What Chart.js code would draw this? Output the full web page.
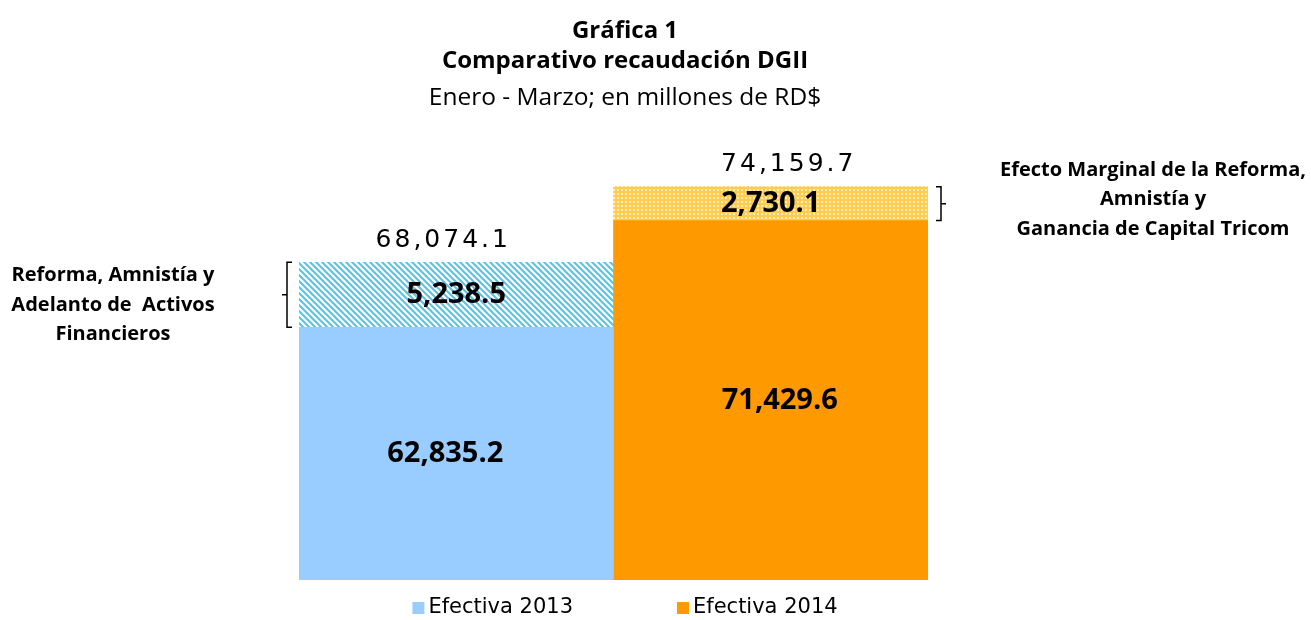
<!DOCTYPE html>
<html>
<head>
<meta charset="utf-8">
<script src="https://cdn.jsdelivr.net/npm/chart.js@4.4.0/dist/chart.umd.min.js"></script>
<style>
    body { margin: 0; background: #fff; }
    #wrap { width: 1311px; height: 620px; }
</style>
</head>
<body>
<div id="wrap"><canvas id="chart"></canvas></div>
<script>
const years = ['2013', '2014'];
const efectiva = [62835.2, 71429.6];
const efectoReforma = [5238.5, 2730.1];
const totales = [68074.1, 74159.7];
const serieNombres = ['Efectiva 2013', 'Efectiva 2014'];
const notaIzq = ['Reforma, Amnistía y', 'Adelanto de  Activos', 'Financieros'];
const notaDer = ['Efecto Marginal de la Reforma,', 'Amnistía y', 'Ganancia de Capital Tricom'];

const azul = '#99ccff';
const naranja = '#ff9900';
const fuente = '"Open Sans"';

function rayasAzules() {
    const c = document.createElement('canvas');
    c.width = 6; c.height = 6;
    const g = c.getContext('2d');
    g.fillStyle = '#ffffff';
    g.fillRect(0, 0, 6, 6);
    g.strokeStyle = '#4fc3f2';
    g.lineWidth = 2;
    g.beginPath();
    g.moveTo(0, 0); g.lineTo(6, 6);
    g.moveTo(-3, 3); g.lineTo(3, 9);
    g.moveTo(3, -3); g.lineTo(9, 3);
    g.stroke();
    return g.createPattern(c, 'repeat');
}

function puntosNaranja() {
    const c = document.createElement('canvas');
    c.width = 4; c.height = 4;
    const g = c.getContext('2d');
    g.fillStyle = '#ffcc4d';
    g.fillRect(0, 0, 4, 4);
    g.fillStyle = '#ffeebb';
    g.fillRect(1, 1, 2, 2);
    return g.createPattern(c, 'repeat');
}

function fmt(v) {
    return v.toLocaleString('en-US', {minimumFractionDigits: 1, maximumFractionDigits: 1});
}

function soloEn(i, arr) {
    return years.map((y, j) => j === i ? arr[i] : null);
}

function llave(ctx, x, y1, y2, dir) {
    ctx.save();
    ctx.strokeStyle = '#000';
    ctx.lineWidth = 1.5;
    ctx.beginPath();
    ctx.moveTo(x - dir * 5, y1);
    ctx.lineTo(x, y1);
    ctx.lineTo(x, y2);
    ctx.lineTo(x - dir * 5, y2);
    const m = (y1 + y2) / 2;
    ctx.moveTo(x, m);
    ctx.lineTo(x + dir * 5, m);
    ctx.stroke();
    ctx.restore();
}

function nota(ctx, lineas, cx, cy) {
    ctx.save();
    ctx.font = 'bold 20px ' + fuente;
    ctx.fillStyle = '#000';
    ctx.textAlign = 'center';
    ctx.textBaseline = 'middle';
    const h = 29.5;
    const y0 = cy - (lineas.length - 1) * h / 2;
    lineas.forEach((t, k) => ctx.fillText(t, cx, y0 + k * h));
    ctx.restore();
}

// pequeños desplazamientos de las etiquetas, como en el original
const dxBase = [-11, 9];
const dxTotal = [-13, 18];

const etiquetas = {
    id: 'etiquetas',
    afterDraw(chart) {
        const ctx = chart.ctx;
        const area = chart.chartArea;
        years.forEach((y, i) => {
            const base = chart.getDatasetMeta(i).data[i];
            const top = chart.getDatasetMeta(2 + i).data[i];
            ctx.save();
            ctx.fillStyle = '#000';
            ctx.textAlign = 'center';
            ctx.textBaseline = 'middle';
            ctx.font = 'bold 29px ' + fuente;
            ctx.fillText(fmt(efectiva[i]), base.x + dxBase[i], (base.y + Math.min(base.base, area.bottom)) / 2);
            ctx.fillText(fmt(efectoReforma[i]), top.x, (top.y + top.base) / 2);
            ctx.font = '25px "DejaVu Sans"';
            ctx.letterSpacing = '3px';
            ctx.fillText(fmt(totales[i]), top.x + dxTotal[i], top.y - 22);
            ctx.restore();

            if (i === 0) {
                llave(ctx, area.left - 12, top.y, top.base, -1);
                nota(ctx, notaIzq, area.left - 186, (top.y + top.base) / 2 + 10);
            } else {
                llave(ctx, area.right + 13, top.y, top.base, 1);
                nota(ctx, notaDer, area.right + 225, (top.y + top.base) / 2 - 4);
            }
        });

        // leyenda
        const cx = (chart.titleBlock.left + chart.titleBlock.right) / 2;
        const colores = [azul, naranja];
        ctx.save();
        ctx.font = '21px "DejaVu Sans"';
        ctx.textBaseline = 'middle';
        ctx.fillStyle = '#000';
        const anchos = serieNombres.map(t => ctx.measureText(t).width);
        const sep = 104;
        const total = anchos.reduce((a, b) => a + b, 0) + 2 * 16 + sep;
        let x = cx - total / 2;
        const ly = area.bottom + 28;
        serieNombres.forEach((t, k) => {
            ctx.fillStyle = colores[k];
            ctx.fillRect(x, ly - 6, 12, 12);
            ctx.fillStyle = '#000';
            ctx.fillText(t, x + 16, ly);
            x += 16 + anchos[k] + sep;
        });
        ctx.restore();
    }
};

const chart = new Chart(document.getElementById('chart'), {
    type: 'bar',
    data: {
        labels: years,
        datasets: [
            {label: serieNombres[0], data: soloEn(0, efectiva), backgroundColor: azul, stack: 's'},
            {label: serieNombres[1], data: soloEn(1, efectiva), backgroundColor: naranja, stack: 's'},
            {label: 'Efecto 2013', data: soloEn(0, efectoReforma), backgroundColor: rayasAzules(), stack: 's'},
            {label: 'Efecto 2014', data: soloEn(1, efectoReforma), backgroundColor: puntosNaranja(), stack: 's'}
        ]
    },
    options: {
        responsive: true,
        maintainAspectRatio: false,
        animation: false,
        events: [],
        barPercentage: 1,
        categoryPercentage: 1,
        borderWidth: 0,
        layout: {padding: {left: 299, right: 360, top: 0, bottom: 40}},
        scales: {
            x: {stacked: true, display: false},
            y: {
                stacked: true,
                min: 42500,
                max: 77000,
                position: 'right',
                grid: {display: false},
                border: {display: false},
                ticks: {display: false},
                afterFit(s) { s.width = 23; }
            }
        },
        plugins: {
            legend: {display: false},
            tooltip: {enabled: false},
            title: {
                display: true,
                text: ['Gráfica 1', 'Comparativo recaudación DGII'],
                color: '#000',
                font: {family: 'Open Sans', size: 24, weight: 'bold', lineHeight: 30 / 24},
                padding: {top: 16, bottom: 7}
            },
            subtitle: {
                display: true,
                text: 'Enero - Marzo; en millones de RD$',
                color: '#000',
                font: {family: 'Open Sans', size: 24.5, weight: 'normal', lineHeight: 1.2},
                padding: {top: 0, bottom: 39}
            }
        }
    },
    plugins: [etiquetas]
});
</script>
</body>
</html>
